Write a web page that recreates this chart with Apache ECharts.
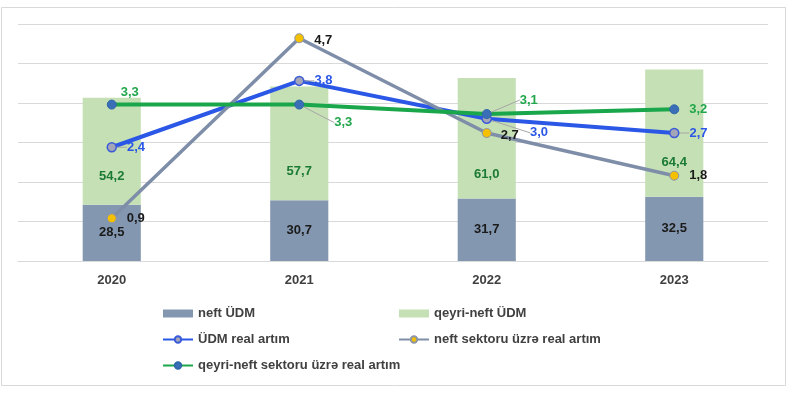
<!DOCTYPE html>
<html>
<head>
<meta charset="utf-8">
<script src="https://cdn.jsdelivr.net/npm/echarts@6/dist/echarts.min.js"></script>
<style>
  html, body { margin: 0; padding: 0; background: #fff; }
</style>
</head>
<body>
<div id="main" style="width: 800px;height:396px;"></div>
<script>
    var years = ['2020', '2021', '2022', '2023'];
    var neftUdm = [28.5, 30.7, 31.7, 32.5];
    var qeyriNeftUdm = [54.2, 57.7, 61.0, 64.4];
    var udmArtim = [2.4, 3.8, 3.0, 2.7];
    var neftArtim = [0.9, 4.7, 2.7, 1.8];
    var qeyriNeftArtim = [3.3, 3.3, 3.1, 3.2];

    // label nudges (dx, dy) — like the hand-moved labels in the original
    var qeyriNeftLabelDy = [0, 0, 5, -6];
    var udmNudge = [[0, 0], [0, 0], [28, 14], [0, 0]];
    var neftNudge = [[0, 0], [0, 2], [-1, 2], [0, 0]];
    var qeyriNudge = [[-6, -12], [20, 18], [18, -14], [0, 0]];
    // which green labels get a leader line
    var qeyriLeader = [false, true, true, false];

    var fontFam = '"Liberation Sans", Arial, sans-serif';

    function fmt(v) {
        return v.toFixed(1).replace('.', ',');
    }

    function nudgeLayout(arr) {
        return function (p) {
            var n = arr[p.dataIndex];
            return { dx: n[0], dy: n[1] };
        };
    }

    var myChart = echarts.init(document.getElementById('main'));

    var legendText = { color: '#404040', fontSize: 13, fontWeight: 'bold', fontFamily: fontFam };

    var option = {
        backgroundColor: '#FFFFFF',
        animation: false,
        textStyle: { fontFamily: fontFam },
        graphic: [{
            type: 'rect',
            shape: { x: 1.5, y: 7.5, width: 784, height: 378 },
            style: { fill: 'none', stroke: '#d9d9d9', lineWidth: 1 },
            silent: true
        }],
        grid: {
            left: 18,
            right: 32,
            top: 24,
            bottom: 135
        },
        legend: [{
            orient: 'vertical',
            left: 157,
            top: 302,
            itemGap: 13,
            itemWidth: 30,
            itemHeight: 8,
            textStyle: legendText,
            data: [
                { name: 'neft ÜDM', icon: 'rect' },
                'ÜDM real artım',
                'qeyri-neft sektoru üzrə real artım'
            ]
        }, {
            orient: 'vertical',
            left: 393,
            top: 302,
            itemGap: 13,
            itemWidth: 30,
            itemHeight: 8,
            textStyle: legendText,
            data: [
                { name: 'qeyri-neft ÜDM', icon: 'rect' },
                'neft sektoru üzrə real artım'
            ]
        }],
        xAxis: {
            type: 'category',
            data: years,
            axisLine: { lineStyle: { color: '#d9d9d9', width: 1 } },
            axisTick: { show: false },
            axisLabel: { color: '#404040', fontSize: 13, fontWeight: 'bold', margin: 13 }
        },
        yAxis: [{
            type: 'value',
            min: 0,
            max: 120,
            interval: 20,
            axisLabel: { show: false },
            axisLine: { show: false },
            axisTick: { show: false },
            splitLine: { lineStyle: { color: '#d9d9d9', width: 1 } }
        }, {
            type: 'value',
            min: 0,
            max: 5,
            axisLabel: { show: false },
            axisLine: { show: false },
            axisTick: { show: false },
            splitLine: { show: false }
        }],
        series: [{
            name: 'neft ÜDM',
            type: 'bar',
            stack: 'udm',
            barWidth: '31%',
            data: neftUdm,
            itemStyle: { color: '#8497b0' },
            label: {
                show: true,
                position: 'inside',
                color: '#1a1a1a',
                fontSize: 13,
                fontWeight: 'bold',
                formatter: function (p) { return fmt(p.value); }
            }
        }, {
            name: 'qeyri-neft ÜDM',
            type: 'bar',
            stack: 'udm',
            barWidth: '31%',
            data: qeyriNeftUdm.map(function (v, i) {
                return { value: v, label: { offset: [0, qeyriNeftLabelDy[i]] } };
            }),
            itemStyle: { color: '#c5e0b4' },
            label: {
                show: true,
                position: 'insideBottom',
                distance: 22,
                color: '#1b7a34',
                fontSize: 13,
                fontWeight: 'bold',
                formatter: function (p) { return fmt(p.value); }
            }
        }, {
            name: 'ÜDM real artım',
            type: 'line',
            yAxisIndex: 1,
            data: udmArtim,
            symbol: 'circle',
            symbolSize: 9,
            lineStyle: { color: '#2b57e6', width: 4 },
            itemStyle: { color: '#a5a5b8', borderColor: '#3a5bd9', borderWidth: 1.5 },
            label: {
                show: true,
                position: 'right',
                distance: 10,
                color: '#2b57e6',
                fontSize: 13,
                fontWeight: 'bold',
                formatter: function (p) { return fmt(p.value); }
            },
            labelLine: { show: true, lineStyle: { color: '#a6a6a6', width: 1 } },
            labelLayout: nudgeLayout(udmNudge)
        }, {
            name: 'neft sektoru üzrə real artım',
            type: 'line',
            yAxisIndex: 1,
            data: neftArtim,
            symbol: 'circle',
            symbolSize: 9,
            lineStyle: { color: '#7f8ea8', width: 3.5 },
            itemStyle: { color: '#f5c000', borderColor: '#8c94a8', borderWidth: 1 },
            label: {
                show: true,
                position: 'right',
                distance: 10,
                color: '#1a1a1a',
                fontSize: 13,
                fontWeight: 'bold',
                formatter: function (p) { return fmt(p.value); }
            },
            labelLayout: nudgeLayout(neftNudge)
        }, {
            name: 'qeyri-neft sektoru üzrə real artım',
            type: 'line',
            yAxisIndex: 1,
            data: qeyriNeftArtim.map(function (v, i) {
                return { value: v, labelLine: { show: qeyriLeader[i] } };
            }),
            symbol: 'circle',
            symbolSize: 9,
            lineStyle: { color: '#1aa64a', width: 4 },
            itemStyle: { color: '#3a6fb8', borderColor: '#2f68a8', borderWidth: 1 },
            label: {
                show: true,
                position: 'right',
                distance: 10,
                color: '#21a64b',
                fontSize: 13,
                fontWeight: 'bold',
                formatter: function (p) { return fmt(p.value); }
            },
            labelLine: { show: true, lineStyle: { color: '#a6a6a6', width: 1 } },
            labelLayout: nudgeLayout(qeyriNudge)
        }]
    };

    myChart.setOption(option);
</script>
</body>
</html>
